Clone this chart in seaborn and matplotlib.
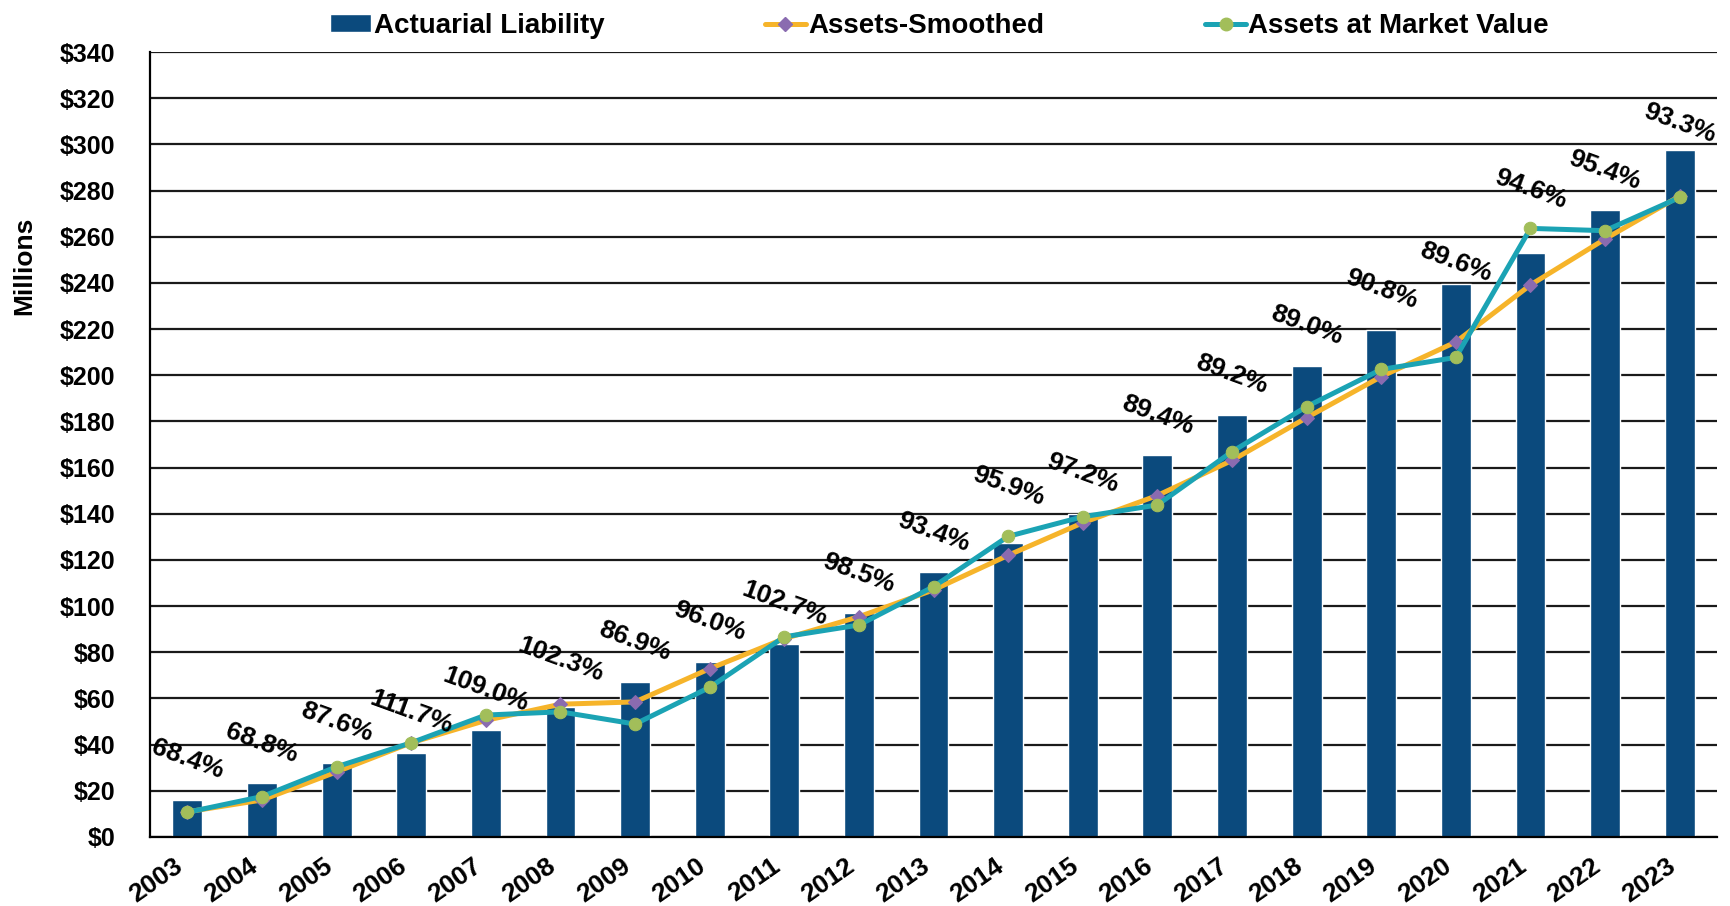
import matplotlib
matplotlib.use("Agg")
import matplotlib.pyplot as plt
from matplotlib.patches import Patch
from matplotlib.lines import Line2D
from matplotlib.ticker import FixedLocator, FuncFormatter, MultipleLocator
import seaborn as sns
import pandas as pd
import numpy as np

# values in $ millions
years = ["2003", "2004", "2005", "2006", "2007", "2008", "2009", "2010", "2011", "2012", "2013",
         "2014", "2015", "2016", "2017", "2018", "2019", "2020", "2021", "2022", "2023"]
liability = [16.0, 23.2, 32.2, 36.5, 46.3, 56.2, 67.3, 75.9, 83.6, 96.9, 114.6,
             127.2, 140.0, 165.4, 182.8, 204.0, 219.6, 239.3, 252.8, 271.5, 297.5]
smoothed = [10.9, 16.0, 28.2, 40.8, 50.5, 57.5, 58.5, 72.9, 85.9, 95.4, 107.0,
            122.0, 136.1, 147.9, 163.1, 181.6, 199.4, 214.4, 239.1, 259.0, 277.6]
market = [10.7, 17.5, 30.4, 40.8, 52.8, 54.2, 48.9, 64.8, 86.7, 91.8, 108.4,
          130.2, 138.7, 143.8, 166.9, 186.4, 202.5, 207.7, 263.6, 262.6, 277.0]
funded_pct = [68.4, 68.8, 87.6, 111.7, 109.0, 102.3, 86.9, 96.0, 102.7, 98.5, 93.4,
              95.9, 97.2, 89.4, 89.2, 89.0, 90.8, 89.6, 94.6, 95.4, 93.3]

BAR = "#0B4A7D"
ORANGE = "#F6B42A"
PURPLE = "#8A6BB0"
TEAL = "#1BA3B4"
GREEN = "#A2BE5A"

# extra vertical offset (points) for a few hand-placed percent labels
label_nudge = {"2008": 5, "2014": 12, "2020": -13, "2021": 17, "2023": -10}

sns.set_style("white")
plt.rcParams["font.family"] = ["Liberation Sans", "DejaVu Sans"]
plt.rcParams["font.weight"] = "bold"
plt.rcParams["text.color"] = "black"
plt.rcParams["xtick.color"] = "black"
plt.rcParams["ytick.color"] = "black"

df = pd.DataFrame({"year": years, "liability": liability, "smoothed": smoothed,
                   "market": market, "pct": funded_pct})
df["pos"] = np.arange(len(df))

fig = plt.figure(figsize=(17.31, 9.06), dpi=100)
ax = fig.add_axes([0.0867, 0.0762, 0.9052, 0.8664])

sns.barplot(data=df, x="year", y="liability", color=BAR, width=0.4, saturation=1, ax=ax, zorder=2)
sns.lineplot(data=df, x="pos", y="smoothed", color=ORANGE, lw=3.6, marker="D", ms=7,
             mfc=PURPLE, mec=PURPLE, ax=ax, zorder=3)
sns.lineplot(data=df, x="pos", y="market", color=TEAL, lw=3.6, marker="o", ms=9,
             mfc=GREEN, mec=GREEN, ax=ax, zorder=4)

for i, row in df.iterrows():
    off = 29 + label_nudge.get(row["year"], 0)
    ax.annotate(f"{row['pct']:.1f}%", (row["pos"], row["liability"]), xytext=(0, off),
                textcoords="offset points", ha="center", va="center", rotation=-20,
                fontsize=19, fontweight="bold", color="black", zorder=5)

ax.set_xlim(-0.5, len(years) - 0.5)
ax.set_ylim(0, 340)
ax.yaxis.set_major_locator(MultipleLocator(20))
ax.yaxis.set_major_formatter(FuncFormatter(lambda v, p: f"${v:.0f}"))
ax.grid(axis="y", color="#1a1a1a", lw=1.6)
ax.set_axisbelow(True)
for s in ["top", "right"]:
    ax.spines[s].set_visible(False)
for s in ["left", "bottom"]:
    ax.spines[s].set_color("black")
    ax.spines[s].set_linewidth(1.6)

ax.xaxis.set_minor_locator(FixedLocator(np.arange(-0.5, len(years), 1.0)))
ax.tick_params(axis="x", which="major", length=0, pad=12, labelsize=19)
ax.tick_params(axis="x", which="minor", length=8, width=1.4, direction="out")
ax.tick_params(axis="y", length=8, width=1.4, direction="out", labelsize=18, pad=17)
plt.setp(ax.get_xticklabels(), rotation=35, ha="right", fontweight="bold")
plt.setp(ax.get_yticklabels(), fontweight="bold")
ax.set_xlabel("")
ax.set_ylabel("")

fig.text(24 / 1731, 1 - 266 / 906, "Millions", rotation=90, ha="center", va="center",
         fontsize=19, fontweight="bold")

handles = [
    Patch(facecolor=BAR),
    Line2D([], [], color=ORANGE, lw=3.6, marker="D", ms=7, mfc=PURPLE, mec=PURPLE),
    Line2D([], [], color=TEAL, lw=3.6, marker="o", ms=9, mfc=GREEN, mec=GREEN),
]
ax.legend(handles, ["Actuarial Liability", "Assets-Smoothed", "Assets at Market Value"],
          loc="center", bbox_to_anchor=(0.504, 1.033), ncol=3, frameon=False,
          handlelength=1.45, handleheight=0.6, handletextpad=0.1, columnspacing=5.8,
          borderaxespad=0, borderpad=0, prop={"weight": "bold", "size": 20})

fig.savefig("out.png", dpi=100)
